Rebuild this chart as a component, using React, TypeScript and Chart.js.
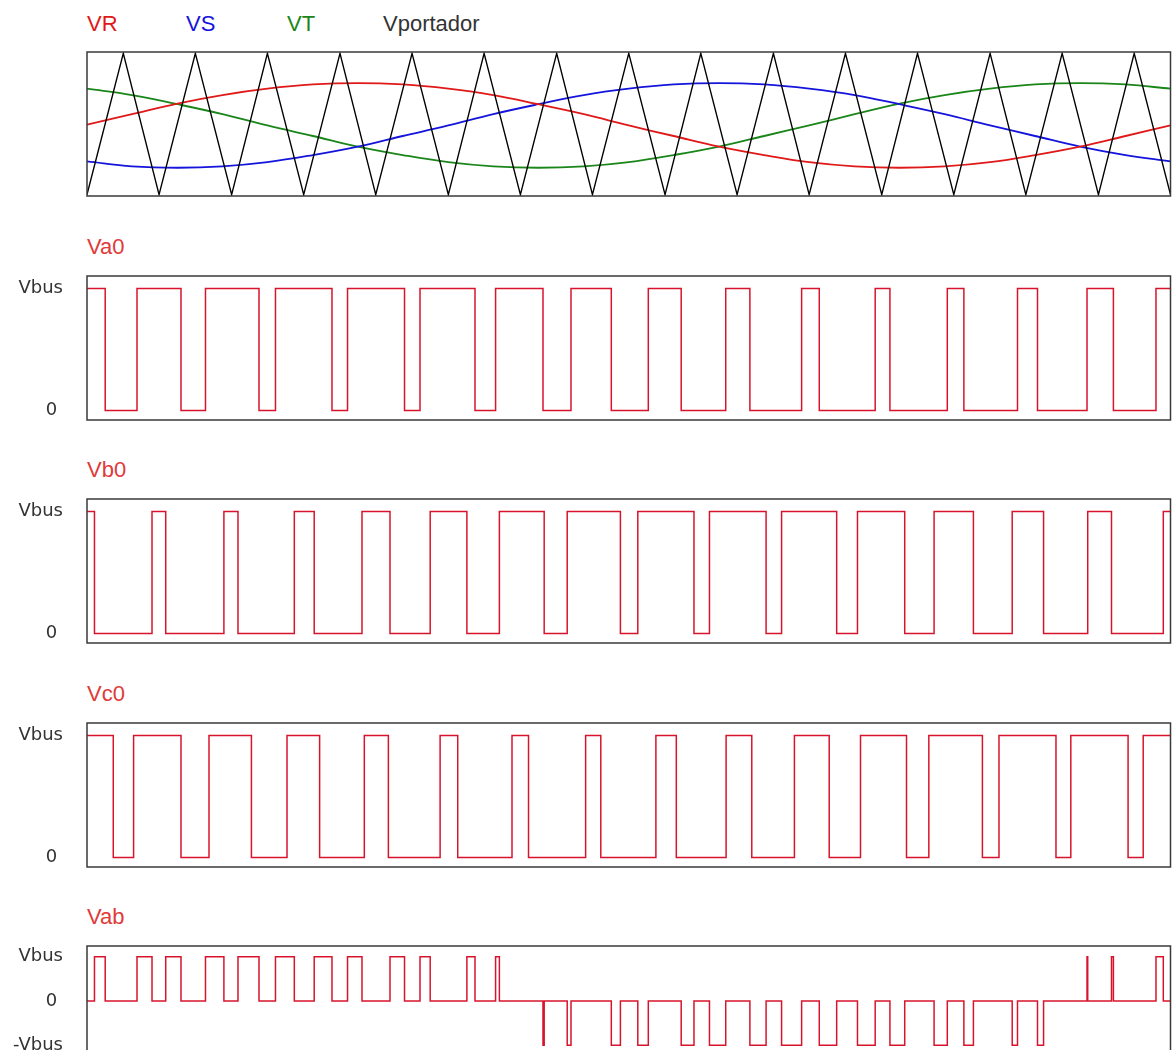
import React, { useEffect, useRef } from 'react';
import { Chart, registerables } from 'chart.js';

Chart.register(...registerables);

// ---------- data (time in ms over one fundamental period) ----------
const T_END = 20;

// triangular carrier (Vportador) vertices
const CARRIER_T = [0, 0.67, 1.33, 2.0, 2.67, 3.33, 4.0, 4.67, 5.33, 6.0, 6.67, 7.33, 8.0, 8.67, 9.33, 10.0,
  10.67, 11.33, 12.0, 12.67, 13.33, 14.0, 14.67, 15.33, 16.0, 16.67, 17.33, 18.0, 18.67, 19.33, 20.0];
const CARRIER_V = [-1, 1, -1, 1, -1, 1, -1, 1, -1, 1, -1, 1, -1, 1, -1, 1, -1, 1, -1, 1, -1, 1, -1, 1, -1, 1,
  -1, 1, -1, 1, -1];

// reference waves sampled along the period
const SINE_T = [0, 0.83, 1.67, 2.5, 3.33, 4.17, 5, 5.83, 6.67, 7.5, 8.33, 9.17, 10, 10.83, 11.67, 12.5, 13.33,
  14.17, 15, 15.83, 16.67, 17.5, 18.33, 19.17, 20];
const VR = [-0.01, 0.14, 0.29, 0.41, 0.5, 0.56, 0.58, 0.56, 0.5, 0.41, 0.28, 0.14, -0.02, -0.17, -0.32, -0.44,
  -0.54, -0.6, -0.62, -0.6, -0.54, -0.44, -0.32, -0.17, -0.02];
const VS = [-0.53, -0.6, -0.62, -0.6, -0.54, -0.44, -0.32, -0.17, -0.02, 0.14, 0.28, 0.41, 0.5, 0.56, 0.58, 0.56,
  0.5, 0.41, 0.28, 0.14, -0.02, -0.17, -0.32, -0.44, -0.53];
const VT = [0.5, 0.41, 0.28, 0.14, -0.02, -0.17, -0.32, -0.44, -0.54, -0.6, -0.62, -0.6, -0.54, -0.44, -0.32, -0.17,
  -0.02, 0.14, 0.29, 0.41, 0.5, 0.56, 0.58, 0.56, 0.5];

// switching instants of the leg voltages (start at Vbus, toggle at each instant)
const VA0_EDGES = [0.336, 0.923, 1.735, 2.187, 3.175, 3.479, 4.522, 4.809, 5.861, 6.147, 7.162, 7.542, 8.417, 8.934,
  9.678, 10.361, 10.968, 11.79, 12.236, 13.191, 13.517, 14.549, 14.821, 15.88, 16.186, 17.176, 17.545, 18.459,
  18.946, 19.732];
const VB0_EDGES = [0.138, 1.2, 1.453, 2.527, 2.787, 3.827, 4.194, 5.076, 5.593, 6.335, 7.012, 7.612, 8.439, 8.864,
  9.846, 10.167, 11.204, 11.49, 12.535, 12.821, 13.838, 14.222, 15.094, 15.636, 16.362, 17.078, 17.657, 18.472,
  18.911, 19.867];
const VC0_EDGES = [0.485, 0.86, 1.735, 2.252, 3.035, 3.692, 4.294, 5.119, 5.563, 6.518, 6.843, 7.845, 8.15, 9.204,
  9.484, 10.501, 10.878, 11.797, 12.271, 13.058, 13.7, 14.278, 15.127, 15.539, 16.528, 16.834, 17.886, 18.16,
  19.217, 19.496];

// line-to-line voltage Vab: instants and level (in Vbus units) after each instant
const VAB_T = [0.138, 0.336, 0.923, 1.2, 1.453, 1.735, 2.187, 2.527, 2.787, 3.175, 3.479, 3.827, 4.194, 4.522,
  4.809, 5.076, 5.593, 5.861, 6.147, 6.335, 7.012, 7.162, 7.542, 7.612, 8.417, 8.439, 8.864, 8.934, 9.678, 9.846,
  10.167, 10.361, 10.968, 11.204, 11.49, 11.79, 12.236, 12.535, 12.821, 13.191, 13.517, 13.838, 14.222, 14.549,
  14.821, 15.094, 15.636, 15.88, 16.186, 16.362, 17.078, 17.176, 17.545, 17.657, 18.459, 18.472, 18.911, 18.946,
  19.732, 19.867];
const VAB_LEVEL = [1, 0, 1, 0, 1, 0, 1, 0, 1, 0, 1, 0, 1, 0, 1, 0, 1, 0, 1, 0, 1, 0, 1, 0,
  -1, 0, -1, 0, -1, 0, -1, 0, -1, 0, -1, 0, -1, 0, -1, 0, -1, 0, -1, 0, -1, 0, -1, 0, -1, 0, -1, 0, -1, 0,
  1, 0, 1, 0, 1, 0];

const LEG_TICKS = [0, 1];
const LEG_TICK_LABELS = ['0 ', 'Vbus'];
const VAB_TICKS = [-1, 0, 1];
const VAB_TICK_LABELS = ['-Vbus', '0 ', 'Vbus'];

const LEGEND = ['VR', 'VS', 'VT', 'Vportador'];
const TITLES = ['Va0', 'Vb0', 'Vc0', 'Vab'];

// ---------- styling ----------
const RED = '#d8142c';
const C_VR = '#e01818';
const C_VS = '#1414dc';
const C_VT = '#1a861a';
const C_CAR = '#000000';
const TITLE_RED = '#e03a3a';
const PAD = 40;
const W = 1172;

type Pt = { x: number; y: number };

function zip(ts: number[], vs: number[]): Pt[] {
  return ts.map((t, i) => ({ x: t, y: vs[i] }));
}

function stepsFromEdges(start: number, edges: number[]): Pt[] {
  const pts: Pt[] = [{ x: 0, y: start }];
  let lvl = start;
  for (const t of edges) {
    lvl = lvl === 1 ? 0 : 1;
    pts.push({ x: t, y: lvl });
  }
  pts.push({ x: T_END, y: lvl });
  return pts;
}

function stepsFromLevels(start: number, ts: number[], levels: number[]): Pt[] {
  const pts: Pt[] = [{ x: 0, y: start }];
  ts.forEach((t, i) => pts.push({ x: t, y: levels[i] }));
  pts.push({ x: T_END, y: levels[levels.length - 1] });
  return pts;
}

const boxPlugin = {
  id: 'panelBox',
  afterDatasetsDraw(chart: any) {
    const { ctx, chartArea: a } = chart;
    ctx.save();
    ctx.strokeStyle = '#3a3a3a';
    ctx.lineWidth = 1.5;
    ctx.strokeRect(a.left, a.top, a.right - a.left, a.bottom - a.top);
    ctx.restore();
  },
};

function baseOptions(yMin: number, yMax: number, yAxis: any, padLeft: number) {
  return {
    responsive: false,
    animation: false as const,
    events: [] as any[],
    layout: { padding: { left: padLeft, right: 1.5, top: PAD, bottom: PAD } },
    elements: { point: { radius: 0 } },
    plugins: { legend: { display: false }, tooltip: { enabled: false }, title: { display: false } },
    scales: {
      x: { type: 'linear' as const, min: 0, max: T_END, display: false },
      y: { type: 'linear' as const, min: yMin, max: yMax, ...yAxis },
    },
  };
}

function levelAxis(ticks: number[], labels: string[]) {
  return {
    display: true,
    grid: { display: false, drawTicks: false },
    border: { display: false },
    afterBuildTicks: (s: any) => {
      s.ticks = ticks.map((v) => ({ value: v }));
    },
    afterFit: (s: any) => {
      s.width = 87;
      s.paddingTop = 0;
      s.paddingBottom = 0;
    },
    ticks: {
      padding: 24,
      color: '#333333',
      font: { family: '"DejaVu Sans", "Open Sans", sans-serif', size: 18 },
      callback: (v: any) => {
        const i = ticks.indexOf(Number(v));
        return i >= 0 ? labels[i] : '';
      },
    },
  };
}

function ChartCanvas({ top, height, make }: { top: number; height: number; make: () => any }) {
  const ref = useRef<HTMLCanvasElement>(null);
  useEffect(() => {
    const chart = new Chart(ref.current as HTMLCanvasElement, make());
    return () => chart.destroy();
  }, []);
  return (
    <canvas
      ref={ref}
      width={W}
      height={height}
      style={{ position: 'absolute', left: 0, top, width: W, height }}
    />
  );
}

function Label({ text, left, baseline, color, size }: { text: string; left: number; baseline: number; color: string; size: number }) {
  return (
    <div
      style={{
        position: 'absolute',
        left,
        top: baseline - 0.8465 * size,
        fontFamily: '"Liberation Sans", Arial, sans-serif',
        fontSize: size,
        lineHeight: `${size}px`,
        color,
        whiteSpace: 'nowrap',
      }}
    >
      {text}
    </div>
  );
}

const LEG_MIN = -9.5 / 122;
const LEG_MAX = 1 + 12.5 / 122;

function topConfig() {
  return {
    type: 'line' as const,
    data: {
      datasets: [
        { label: LEGEND[3], data: zip(CARRIER_T, CARRIER_V), borderColor: C_CAR, borderWidth: 1.4, tension: 0, order: 0 },
        { label: LEGEND[0], data: zip(SINE_T, VR), borderColor: C_VR, borderWidth: 1.8, tension: 0.4, order: 1 },
        { label: LEGEND[1], data: zip(SINE_T, VS), borderColor: C_VS, borderWidth: 1.8, tension: 0.4, order: 2 },
        { label: LEGEND[2], data: zip(SINE_T, VT), borderColor: C_VT, borderWidth: 1.8, tension: 0.4, order: 3 },
      ],
    },
    options: baseOptions(-1.02, 1.02, { display: false }, 87),
    plugins: [boxPlugin],
  };
}

function legConfig(label: string, edges: number[]) {
  return {
    type: 'line' as const,
    data: {
      datasets: [
        { label, data: stepsFromEdges(1, edges), borderColor: RED, borderWidth: 1.5, stepped: 'before' as const },
      ],
    },
    options: baseOptions(LEG_MIN, LEG_MAX, levelAxis(LEG_TICKS, LEG_TICK_LABELS), 0),
    plugins: [boxPlugin],
  };
}

function vabConfig() {
  return {
    type: 'line' as const,
    data: {
      datasets: [
        {
          label: TITLES[3],
          data: stepsFromLevels(0, VAB_T, VAB_LEVEL),
          borderColor: RED,
          borderWidth: 1.5,
          stepped: 'before' as const,
        },
      ],
    },
    options: baseOptions(-1.2415, 1.2415, levelAxis(VAB_TICKS, VAB_TICK_LABELS), 0),
    plugins: [boxPlugin],
  };
}

const BOX_TOP = [52, 276, 499, 723, 946];
const BOX_H = [144, 144, 144, 144, 110];

export default function App() {
  const legendLeft = [87, 186, 287, 383];
  const legendColor = [C_VR, C_VS, C_VT, '#333333'];
  return (
    <div
      style={{
        position: 'absolute',
        left: 0,
        top: 0,
        width: W,
        height: 1050,
        overflow: 'hidden',
        background: '#ffffff',
      }}
    >
      {LEGEND.map((t, i) => (
        <Label key={t} text={t} left={legendLeft[i]} baseline={BOX_TOP[0] - 20} color={legendColor[i]} size={22} />
      ))}
      {TITLES.map((t, i) => (
        <Label key={t} text={t} left={87} baseline={BOX_TOP[i + 1] - 21.5} color={TITLE_RED} size={22} />
      ))}
      <ChartCanvas top={BOX_TOP[0] - PAD} height={BOX_H[0] + 2 * PAD} make={topConfig} />
      <ChartCanvas top={BOX_TOP[1] - PAD} height={BOX_H[1] + 2 * PAD} make={() => legConfig(TITLES[0], VA0_EDGES)} />
      <ChartCanvas top={BOX_TOP[2] - PAD} height={BOX_H[2] + 2 * PAD} make={() => legConfig(TITLES[1], VB0_EDGES)} />
      <ChartCanvas top={BOX_TOP[3] - PAD} height={BOX_H[3] + 2 * PAD} make={() => legConfig(TITLES[2], VC0_EDGES)} />
      <ChartCanvas top={BOX_TOP[4] - PAD} height={BOX_H[4] + 2 * PAD} make={vabConfig} />
    </div>
  );
}
